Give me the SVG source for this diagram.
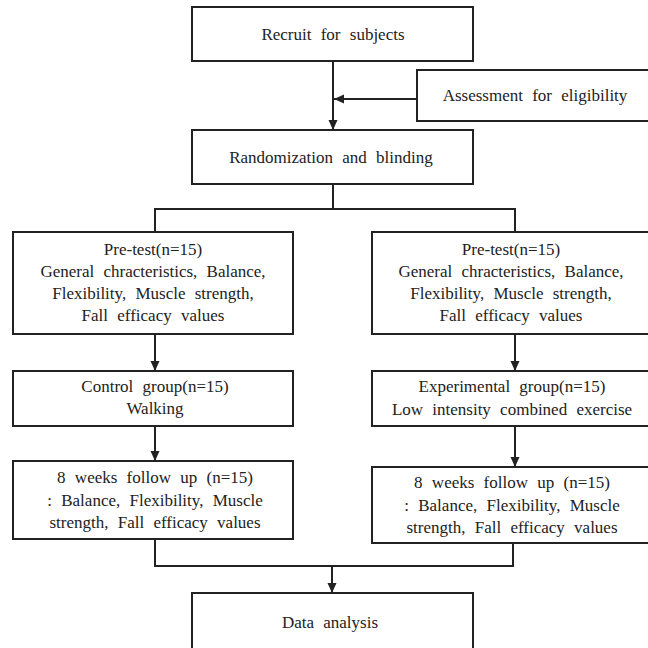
<svg xmlns="http://www.w3.org/2000/svg" width="648" height="648" viewBox="0 0 648 648">
<style>
.box{fill:#fff;stroke:#222;stroke-width:2}
.t{font-family:"Liberation Serif","Times New Roman",serif;font-size:17px;fill:#222;text-anchor:middle;word-spacing:5px}
.c{fill:none;stroke:#222;stroke-width:2}
</style>
<defs>
<marker id="ah" markerUnits="userSpaceOnUse" markerWidth="10" markerHeight="10" viewBox="0 0 10 10" refX="10" refY="5" orient="auto">
<path d="M0,0.5 L10,5 L0,9.5 Z" fill="#222"/>
</marker>
</defs>
<rect width="648" height="648" fill="#fff"/>
<g id="connectors">
<line class="c" x1="333" y1="61" x2="333" y2="130" marker-end="url(#ah)"/>
<line class="c" x1="417" y1="99" x2="334" y2="99" marker-end="url(#ah)"/>
<polyline class="c" points="333,184 333,209"/>
<polyline class="c" points="155,232 155,209 515,209 515,232"/>
<line class="c" x1="155" y1="334" x2="155" y2="371" marker-end="url(#ah)"/>
<line class="c" x1="155" y1="426" x2="155" y2="461" marker-end="url(#ah)"/>
<line class="c" x1="515" y1="334" x2="515" y2="371" marker-end="url(#ah)"/>
<line class="c" x1="515" y1="426" x2="515" y2="467" marker-end="url(#ah)"/>
<polyline class="c" points="155,539 155,566 513,566 513,543"/>
<line class="c" x1="332" y1="566" x2="332" y2="593" marker-end="url(#ah)"/>
</g>
<g id="recruit">
<rect class="box" x="192" y="7" width="281" height="54"/>
<text class="t" x="333" y="40">Recruit for subjects</text>
</g>
<g id="assessment">
<rect class="box" x="417" y="70" width="240" height="51"/>
<text class="t" x="535" y="101">Assessment for eligibility</text>
</g>
<g id="randomization">
<rect class="box" x="192" y="130" width="281" height="54"/>
<text class="t" x="331" y="163">Randomization and blinding</text>
</g>
<g id="pretest-left">
<rect class="box" x="13" y="232" width="280" height="102"/>
<text class="t" x="153" y="255">Pre-test(n=15)</text>
<text class="t" x="153" y="277">General chracteristics, Balance,</text>
<text class="t" x="153" y="299">Flexibility, Muscle strength,</text>
<text class="t" x="153" y="321">Fall efficacy values</text>
</g>
<g id="pretest-right">
<rect class="box" x="372" y="232" width="285" height="102"/>
<text class="t" x="511" y="255">Pre-test(n=15)</text>
<text class="t" x="511" y="277">General chracteristics, Balance,</text>
<text class="t" x="511" y="299">Flexibility, Muscle strength,</text>
<text class="t" x="511" y="321">Fall efficacy values</text>
</g>
<g id="control">
<rect class="box" x="13" y="371" width="280" height="55"/>
<text class="t" x="155" y="392">Control group(n=15)</text>
<text class="t" x="155" y="414">Walking</text>
</g>
<g id="experimental">
<rect class="box" x="372" y="371" width="285" height="55"/>
<text class="t" x="512" y="392">Experimental group(n=15)</text>
<text class="t" x="512" y="415">Low intensity combined exercise</text>
</g>
<g id="followup-left">
<rect class="box" x="13" y="461" width="280" height="78"/>
<text class="t" x="155" y="483">8 weeks follow up (n=15)</text>
<text class="t" x="155" y="506">: Balance, Flexibility, Muscle</text>
<text class="t" x="155" y="528">strength, Fall efficacy values</text>
</g>
<g id="followup-right">
<rect class="box" x="372" y="467" width="285" height="76"/>
<text class="t" x="512" y="488">8 weeks follow up (n=15)</text>
<text class="t" x="512" y="511">: Balance, Flexibility, Muscle</text>
<text class="t" x="512" y="533">strength, Fall efficacy values</text>
</g>
<g id="data-analysis">
<rect class="box" x="192" y="593" width="281" height="70"/>
<text class="t" x="330" y="628">Data analysis</text>
</g>
</svg>
